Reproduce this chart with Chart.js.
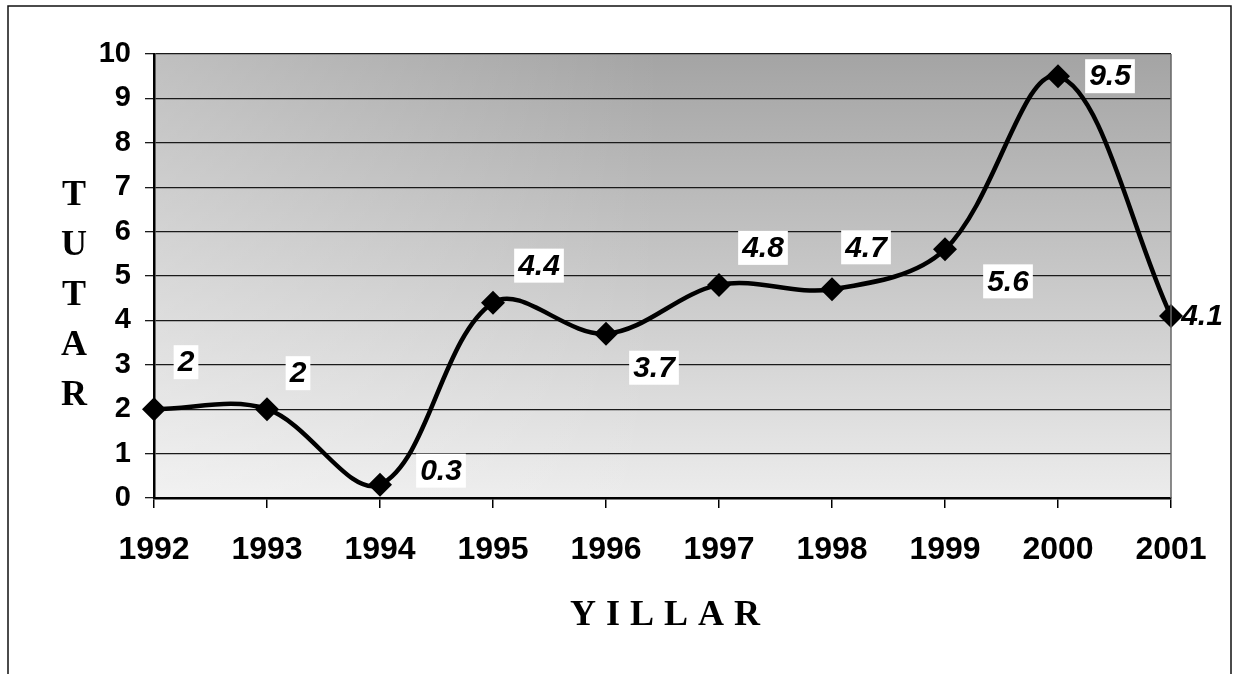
<!DOCTYPE html>
<html>
<head>
<meta charset="utf-8">
<script src="https://cdn.jsdelivr.net/npm/chart.js@4.4.0/dist/chart.umd.min.js"></script>
<style>
  html, body { margin: 0; padding: 0; background: #fff; }
  #wrap { width: 1235px; height: 674px; }
</style>
</head>
<body>
<div id="wrap"><canvas id="chart" width="1235" height="674"></canvas></div>
<script>
// data
const years = ['1992', '1993', '1994', '1995', '1996', '1997', '1998', '1999', '2000', '2001'];
const tutar = [2, 2, 0.3, 4.4, 3.7, 4.8, 4.7, 5.6, 9.5, 4.1];
const valueLabels = ['2', '2', '0.3', '4.4', '3.7', '4.8', '4.7', '5.6', '9.5', '4.1'];
const yTitle = ['T', 'U', 'T', 'A', 'R'];
const xTitle = 'YILLAR';

// where each value label sits relative to its point (px)
const labelOffsets = [[32,-47],[31,-36],[61,-14],[46,-37],[48,34],[44,-37],[34,-42],[63,32],[52,0],[31,0]];

const frame = {
  id: 'frame',
  beforeDraw(chart){
    const c = chart.ctx, a = chart.chartArea;
    const w = a.right - a.left, h = a.bottom - a.top;
    c.save();
    c.fillStyle = '#fff';
    c.fillRect(0, 0, chart.width, chart.height);
    c.strokeStyle = '#111'; c.lineWidth = 1.5;
    c.beginPath();
    c.moveTo(8, 680); c.lineTo(8, 6); c.lineTo(1231, 6); c.lineTo(1231, 680);
    c.stroke();
    // plot background: dark at the top, light at the bottom, lighter to the left
    const g = c.createLinearGradient(0, a.top, 0, a.bottom);
    g.addColorStop(0, '#a4a4a4');
    g.addColorStop(0.45, '#c4c4c4');
    g.addColorStop(1, '#ececec');
    c.fillStyle = g;
    c.fillRect(a.left, a.top, w, h);
    const g2 = c.createLinearGradient(a.left, 0, a.left + w * 0.5, 0);
    g2.addColorStop(0, 'rgba(255,255,255,0.3)');
    g2.addColorStop(1, 'rgba(255,255,255,0)');
    c.fillStyle = g2;
    c.fillRect(a.left, a.top, w, h);
    c.restore();
  },
  afterDraw(chart){
    const c = chart.ctx, a = chart.chartArea;
    c.save();
    c.strokeStyle = '#666'; c.lineWidth = 1.5;
    c.beginPath(); c.moveTo(a.right, a.top); c.lineTo(a.right, a.bottom); c.stroke();
    c.fillStyle = '#000';
    c.textAlign = 'center'; c.textBaseline = 'middle';
    c.font = 'bold 36px "Liberation Serif", "Times New Roman", serif';
    yTitle.forEach((ch, i) => c.fillText(ch, 74, 196 + i * 50));
    c.letterSpacing = '10px';
    c.fillText(xTitle, 670, 616);
    c.restore();
  }
};

// white boxes with the values, drawn under the line
const valueTags = {
  id: 'valueTags',
  beforeDatasetsDraw(chart){
    const c = chart.ctx;
    const pts = chart.getDatasetMeta(0).data;
    c.save();
    c.font = 'italic bold 30px "Liberation Sans", Arial, sans-serif';
    c.textAlign = 'center'; c.textBaseline = 'middle';
    pts.forEach((p, i) => {
      const x = p.x + labelOffsets[i][0], y = p.y + labelOffsets[i][1];
      const w = c.measureText(valueLabels[i]).width + 8;
      c.fillStyle = '#fff';
      c.fillRect(x - w / 2, y - 17, w, 34);
      c.fillStyle = '#000';
      c.fillText(valueLabels[i], x, y + 1);
    });
    c.restore();
  }
};

new Chart(document.getElementById('chart'), {
  type: 'line',
  data: {
    labels: years,
    datasets: [{
      data: tutar,
      borderColor: '#000',
      borderWidth: 4.5,
      tension: 0.35,
      pointStyle: 'rectRot',
      pointRadius: 12,
      pointBackgroundColor: '#000',
      pointBorderWidth: 0,
      clip: false
    }]
  },
  options: {
    responsive: false,
    devicePixelRatio: 1,
    animation: false,
    layout: { padding: { left: 0, top: 54, right: 64, bottom: 0 } },
    plugins: { legend: { display: false }, tooltip: { enabled: false } },
    scales: {
      x: {
        offset: false,
        afterFit: s => { s.height = 176; },
        grid: { drawOnChartArea: false, offset: false, tickLength: 10, color: '#000', lineWidth: 1.5 },
        border: { color: '#000', width: 2.5 },
        ticks: { color: '#000', padding: 23, maxRotation: 0, font: { family: '"Liberation Sans", Arial, sans-serif', size: 32, weight: 'bold' } }
      },
      y: {
        min: 0, max: 10,
        afterFit: s => { s.width = 154; },
        grid: { color: '#1a1a1a', lineWidth: 1.3, tickLength: 9 },
        border: { color: '#000', width: 2.5 },
        ticks: { stepSize: 1, color: '#000', padding: 14, font: { family: '"Liberation Sans", Arial, sans-serif', size: 29, weight: 'bold' } }
      }
    }
  },
  plugins: [frame, valueTags]
});
</script>
</body>
</html>
